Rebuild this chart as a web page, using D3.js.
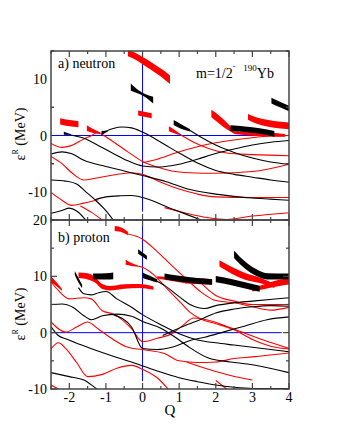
<!DOCTYPE html>
<html>
<head>
<meta charset="utf-8">
<script src="https://cdn.jsdelivr.net/npm/d3@7"></script>
<style>
body { margin: 0; background: #fff; }
</style>
</head>
<body>
<script>
// deformation axis
const qTicks = [-2, -1, 0, 1, 2, 3, 4]

// ---- neutron panel (a) ----
const nBlack = [
  [[-1.05,0.6],[-0.8,1.25],[-0.55,1.5],[-0.3,1.35],[0,0.6],[0.5,-1.2],[1,-3.1],[1.5,-4.9],[2,-6.2],[2.5,-6.9],[3,-7.4],[3.5,-7.9],[4,-8.3]],
  [[-2.5,-3.3],[-2.2,-2.9],[-1.95,-3.2],[-1.6,-4.4],[-1,-5.5],[-0.5,-6.3],[0,-7.1],[0.65,-8.2],[1.3,-9.6],[2,-10.4],[2.5,-10.8],[3,-11.1],[3.5,-11.3],[4,-11.5]],
  [[-2.5,-7.9],[-2.1,-8.1],[-1.8,-8.6],[-1.55,-10],[-1.3,-11.4],[-1.05,-13],[-0.8,-15]],
  [[-2.5,-13.8],[-2.2,-13.3],[-2,-12.9],[-1.8,-13.4],[-1.55,-15]],
  [[-1.3,-11.4],[-1,-10.9],[-0.6,-10.7],[-0.3,-10.65],[0.05,-11.1],[0.75,-12.9],[1.2,-14],[1.6,-15]],
  [[-1.95,0.1],[-1.6,-0.5],[-1.2,-1.8],[-0.8,-3.2],[-0.4,-4.5],[0,-5.4],[0.4,-5.6],[1,-5.1],[1.5,-4.2],[2,-3.2],[2.5,-2.4],[3,-1.7],[3.5,-1.2],[4,-0.9]],
  [[1.3,0.9],[1.6,-0.3],[2,-1.7],[2.5,-3],[3,-4],[3.5,-4.7],[4,-5.1]]
]
const nRed = [
  [[-2.5,-1.4],[-2.2,-2.1],[-1.95,-1.8],[-1.6,-0.6],[-1.39,0],[-1.25,0.6]],
  [[-1.15,0.4],[-0.8,-1.1],[-0.4,-2.9],[0,-4.6],[0.4,-5.6],[0.8,-6.3],[1.3,-6.6],[2,-6.7],[3,-6.4],[4,-5.1]],
  [[-2.5,-3.7],[-2.2,-5],[-1.9,-6.8],[-1.6,-7.9],[-1.3,-7.6],[-0.8,-7],[-0.3,-6.6],[0,-6.9],[0.5,-8.3],[1,-9.5],[1.5,-10.4],[2,-10.9],[3,-11],[4,-11]],
  [[-2.5,-10.1],[-2.2,-11.5],[-1.94,-12.4],[-1.6,-12],[-1.2,-11.4]],
  [[-1.7,-12.5],[-1.4,-13.6],[-1.1,-15]],
  [[0,-4.8],[0.4,-4.2],[0.9,-3.1],[1.5,-2],[2,-1.3],[2.5,-0.8],[3,-0.4],[3.5,-0.1],[4,0]],
  [[1.05,0.1],[1.4,-1.2],[1.8,-2.3],[2.3,-3.1],[3,-3.4],[4,-3.6]],
  [[0.6,-12.8],[1.2,-13.8],[1.8,-14.6],[2.3,-14.9],[3,-14.3],[4,-13.7]]
]
// resonances: [Q, E, width] in MeV
const nBlackWide = [
  [[-0.32,8.6,1.3],[-0.1,7.7,0.6],[0.1,7.0,0.6],[0.29,6.3,1.2]],
  [[-2.15,0.4,0.5],[-1.95,0.15,0.15]],
  [[-1.12,0.45,0.7],[-0.95,0.8,0.2]],
  [[0.85,2.3,0.9],[1.05,1.6,0.8],[1.3,0.9,0.4]],
  [[2.4,1.3,1.0],[2.8,1.1,1.0],[3.2,0.8,1.0],[3.6,0.3,1.0]],
  [[3.52,6.2,1.0],[3.75,5.5,1.0],[4,4.8,1.0]]
]
const nRedWide = [
  [[-0.4,14.6,1.1],[-0.2,14.1,1.2],[0,13.3,1.3],[0.2,12.5,1.4],[0.4,11.6,1.4],[0.6,10.7,1.5],[0.75,9.9,1.5]],
  [[-0.12,4.0,0.9],[0.25,3.5,0.9]],
  [[-2.25,2.5,1.1],[-2.0,2.2,1.1],[-1.75,2.0,1.1]],
  [[-1.52,1.3,1.0],[-1.35,0.8,0.7],[-1.15,0.4,0.3]],
  [[0.72,1.2,0.9],[0.9,0.6,0.6],[1.05,0.1,0.2]],
  [[1.88,3.9,1.3],[2.1,2.8,1.4],[2.3,1.7,1.2],[2.5,0.6,0.6]],
  [[2.88,3.3,1.0],[3.1,2.7,1.1],[3.4,2.2,1.2],[3.7,1.9,1.2],[4,1.7,1.2]],
  [[2.5,0.5,0.5],[2.9,0.3,0.6],[3.3,0.2,0.7],[3.7,0.1,0.6],[3.9,0.0,0.4]]
]
const nYTicks = [-10, 0, 10]

// ---- proton panel (b) ----
const pBlack = [
  [[-1.75,8],[-1.6,6.9],[-1.4,6.7],[-1.2,7.1],[-1,7.3],[-0.7,6],[-0.3,4.5],[0,3.2],[0.5,1.4],[1,-0.2],[1.5,-1.3],[2,-1.8],[2.5,-2.2],[3,-2.6],[4,-3.4]],
  [[0.3,9.4],[0.6,8.4],[1,6.4],[1.3,5.0],[1.7,4.3],[2.0,4.8],[2.5,5.3],[3,5.6],[4,6.2]],
  [[-2.5,5],[-2.2,5.1],[-1.9,4.5],[-1.6,3],[-1.4,2.3],[-1.1,3],[-0.7,3.3],[-0.3,2.9],[0,2],[0.5,0.8],[1,-1.3],[1.3,-2.7],[1.8,-4.5],[2.4,-5.2],[3,-5.7],[4,-7.1]],
  [[-2.5,1.1],[-2.3,-0.5],[-2.1,-1.1],[-1.7,-2.1],[-1.2,-3.3],[-0.7,-4.4],[-0.3,-5.2],[0,-5.9],[0.4,-6.8],[1,-8],[1.5,-8.7],[2,-9.3],[2.5,-9.7],[3,-9.9],[4,-9.9]],
  [[-2.5,-7.1],[-2,-7.8],[-1.6,-8.4],[-1.35,-9.5],[-1.25,-10]],
  [[0.55,-0.5],[1.1,1.1],[1.6,2.4],[2,3.5],[2.5,4.2],[3,4.6],[3.5,4.8],[4,4.7]],
  [[-0.8,3.2],[-0.3,1],[0,-2.8],[0.4,-3.0],[0.8,-2.6],[1.3,-1.4],[1.7,-0.8],[2.2,0.1],[2.8,1.2],[3.4,2.3],[4,2.8]]
]
const pRed = [
  [[-0.4,17.5],[0,16.6],[0.4,14.4],[0.8,11.9],[1.2,9.5],[1.6,7.2],[2,5.7],[2.5,5.3],[3,4.6],[3.5,4],[4,4.5]],
  [[-0.1,11.8],[0,11.6],[0.3,10.3],[0.6,8.3],[1,5.6],[1.3,3.6],[1.6,2.4],[2,1.6],[2.5,0.5],[3,-1.2],[3.5,-2.4],[4,-2.9]],
  [[-2.5,9],[-2.3,7.5],[-2,6],[-1.6,6.2],[-1.4,6.0],[-1.1,3.9],[-0.8,3.3],[-0.6,2.5],[-0.3,0.7],[0,-1.6],[0.4,-1],[0.8,-0.2],[1.1,1.3],[1.4,2.6],[1.8,2.2],[2.3,1.1],[2.8,-0.1],[3.3,-1.3],[4,-2.8]],
  [[-2.5,1.9],[-2.1,0.1],[-1.8,1],[-1.5,1.9],[-1.2,0.6],[-0.8,-1.2],[-0.4,-2.6],[0,-3],[0.6,-3.7],[1,-5],[1.5,-5.3],[2,-5.2],[2.5,-4.6],[3,-4.3],[4,-3.6]],
  [[-2.5,-2.9],[-2.3,-1.8],[-2.1,-2.8],[-1.8,-5.3],[-1.5,-7.8],[-1.1,-7.4],[-0.7,-6.3],[-0.3,-5.8],[0,-6.5],[0.4,-8],[0.7,-10]],
  [[-2.5,-9.3],[-2.3,-10]],
  [[2.0,-8.5],[2.3,-10]],
  [[1.2,-5.2],[1.8,-6.5],[2.4,-7.6],[3,-8.4]],
  [[1.6,8.8],[2,6.6],[2.5,5.6],[3,5],[4,5]]
]
const pBlackWide = [
  [[-0.12,14.4,0.8],[0.12,13.3,0.7]],
  [[-1.85,10.6,0.7],[-1.75,9.3,0.8],[-1.65,8.2,0.6]],
  [[-1.35,10.0,1.0],[-1.0,10.0,1.1],[-0.8,10.1,1.2]],
  [[0,10.2,1.0],[0.2,9.7,0.8],[0.4,9.2,0.6]],
  [[0.6,10.0,1.0],[1.0,9.6,1.0],[1.5,9.2,1.0],[1.9,9.0,1.0]],
  [[2.0,9.5,1.1],[2.4,9.0,1.1],[2.8,8.4,1.1],[3.2,7.8,1.1]],
  [[2.5,13.9,1.3],[2.8,12.0,1.3],[3.1,10.7,1.2],[3.4,10.0,1.1],[4,10.0,1.0]]
]
const pRedWide = [
  [[-0.76,18.5,0.9],[-0.55,18.2,0.8],[-0.4,17.6,0.6]],
  [[-0.46,12.5,0.9],[-0.3,12.1,0.5],[-0.1,11.8,0.2]],
  [[-2.5,9.5,1.0],[-2.35,8.6,0.7],[-2.2,7.6,0.3]],
  [[-1.75,10.2,1.0],[-1.5,10.0,1.1],[-1.3,9.4,1.0],[-1.1,8.2,0.9],[-0.9,7.9,0.8],[-0.5,8.2,0.8],[-0.1,8.3,0.7],[0.3,7.9,0.6]],
  [[0.4,9.8,0.4],[0.8,9.5,0.7],[1.2,9.2,0.9],[1.6,9.1,1.0],[1.9,9.0,1.0]],
  [[2.1,12.3,1.1],[2.4,11.2,1.2],[2.8,10.0,1.2],[3.2,9.3,1.0],[3.6,8.3,0.7]],
  [[3.0,7.6,0.6],[3.4,8.3,0.9],[3.7,8.8,1.1],[4,9.1,1.1]]
]
const pYTicks = [-10, 0, 10, 20]

const w = 340
const h = 440
const left = 51
const right = 289
const serif = "'Liberation Serif', 'Times New Roman', Times, serif"

const svg = d3.select("body")
              .append("svg")
              .attr("width", w)
              .attr("height", h)
              .attr("font-family", serif)

const xScale = d3.scaleLinear()
                 .domain([-2.5, 4])
                 .range([left, right])

function drawPanel(top, bottom, yDomain, yTicks, black, red, blackWide, redWide, vEnd, hEnd, labelY, showX) {
    const yScale = d3.scaleLinear()
                     .domain(yDomain)
                     .range([bottom, top])
    const g = svg.append("g")

    const clipId = "clip" + top
    g.append("clipPath")
     .attr("id", clipId)
     .append("rect")
     .attr("x", left)
     .attr("y", top)
     .attr("width", right - left)
     .attr("height", bottom - top)

    const plot = g.append("g").attr("clip-path", "url(#" + clipId + ")")

    // reference lines
    plot.append("line")
        .attr("x1", xScale(-2.5)).attr("x2", xScale(hEnd))
        .attr("y1", yScale(0)).attr("y2", yScale(0))
        .attr("stroke", "#0000ff").attr("stroke-width", 1)
    plot.append("line")
        .attr("x1", xScale(0)).attr("x2", xScale(0))
        .attr("y1", yScale(yDomain[1])).attr("y2", yScale(vEnd))
        .attr("stroke", "#0000ff").attr("stroke-width", 1)

    const line = d3.line()
                   .x((d) => xScale(d[0]))
                   .y((d) => yScale(d[1]))
                   .curve(d3.curveMonotoneX)
    const area = d3.area()
                   .x((d) => xScale(d[0]))
                   .y0((d) => yScale(d[1] - d[2] / 2))
                   .y1((d) => yScale(d[1] + d[2] / 2))
                   .curve(d3.curveMonotoneX)

    plot.selectAll(".red")
        .data(red)
        .enter()
        .append("path")
        .attr("d", line)
        .attr("fill", "none")
        .attr("stroke", "#ff0000")
        .attr("stroke-width", 1.1)
    plot.selectAll(".black")
        .data(black)
        .enter()
        .append("path")
        .attr("d", line)
        .attr("fill", "none")
        .attr("stroke", "#000")
        .attr("stroke-width", 1.1)
    plot.selectAll(".redwide")
        .data(redWide)
        .enter()
        .append("path")
        .attr("d", area)
        .attr("fill", "#ff0000")
    plot.selectAll(".blackwide")
        .data(blackWide)
        .enter()
        .append("path")
        .attr("d", area)
        .attr("fill", "#000")

    // ticks, mirrored and pointing inward
    const xMajor = d3.range(-2, 4.01, 1)
    const xMinor = d3.range(-2.5, 4.01, 0.5).filter((v) => !Number.isInteger(v))
    const yMajor = d3.range(yDomain[0], yDomain[1] + 0.01, 10)
    const yMinor = d3.range(yDomain[0], yDomain[1] + 0.01, 5).filter((v) => v % 10 !== 0)
    const ticks = g.append("g").attr("stroke", "#444").attr("stroke-width", 1.2)
    xMajor.concat(xMinor).forEach((v) => {
        const len = Number.isInteger(v) ? 6 : 3
        ticks.append("line").attr("x1", xScale(v)).attr("x2", xScale(v)).attr("y1", bottom).attr("y2", bottom - len)
        ticks.append("line").attr("x1", xScale(v)).attr("x2", xScale(v)).attr("y1", top).attr("y2", top + len)
    })
    yMajor.concat(yMinor).forEach((v) => {
        const len = v % 10 === 0 ? 6 : 3
        ticks.append("line").attr("y1", yScale(v)).attr("y2", yScale(v)).attr("x1", left).attr("x2", left + len)
        ticks.append("line").attr("y1", yScale(v)).attr("y2", yScale(v)).attr("x1", right).attr("x2", right - len)
    })

    g.append("rect")
     .attr("x", left).attr("y", top)
     .attr("width", right - left).attr("height", bottom - top)
     .attr("fill", "none")
     .attr("stroke", "#444")
     .attr("stroke-width", 1.5)

    g.selectAll(".ylab")
     .data(yTicks)
     .enter()
     .append("text")
     .attr("x", left - 4)
     .attr("y", (d) => yScale(d) + 5)
     .attr("text-anchor", "end")
     .attr("font-family", serif)
     .attr("font-size", 14)
     .text((d) => d)

    const yl = g.append("text")
                .attr("transform", "translate(25," + labelY + ") rotate(-90)")
                .attr("text-anchor", "middle")
                .attr("font-family", serif)
                .attr("font-size", 14)
    yl.append("tspan").text("\u03b5")
    yl.append("tspan").attr("dy", -7).attr("font-size", 8).text("R")
    yl.append("tspan").attr("dy", 7).text(" (MeV)")

    if (showX) {
        g.selectAll(".xlab")
         .data(qTicks)
         .enter()
         .append("text")
         .attr("x", (d) => xScale(d))
         .attr("y", bottom + 13)
         .attr("text-anchor", "middle")
         .attr("font-family", serif)
         .attr("font-size", 14)
         .text((d) => d)
    }
    return g
}

const ga = drawPanel(51, 220, [-15, 15], nYTicks, nBlack, nRed, nBlackWide, nRedWide, -13.5, 4, 134, false)
const gb = drawPanel(220, 389, [-10, 20], pYTicks, pBlack, pRed, pBlackWide, pRedWide, -8.6, 3.8, 314, true)

ga.append("text").attr("x", 58).attr("y", 68).attr("font-family", serif).attr("font-size", 14).text("a) neutron")
const ml = ga.append("text").attr("x", 196).attr("y", 78).attr("font-family", serif).attr("font-size", 14)
ml.append("tspan").text("m=1/2")
ml.append("tspan").attr("dy", -9).attr("font-size", 8).text("-")
ml.append("tspan").attr("dy", 2).attr("dx", 8).attr("font-size", 9).text("190")
ml.append("tspan").attr("dy", 7).text("Yb")

gb.append("text").attr("x", 58).attr("y", 242).attr("font-family", serif).attr("font-size", 14).text("b) proton")

svg.append("text")
   .attr("x", 170)
   .attr("y", 415)
   .attr("text-anchor", "middle")
   .attr("font-family", serif)
   .attr("font-size", 15)
   .text("Q")
</script>
</body>
</html>
